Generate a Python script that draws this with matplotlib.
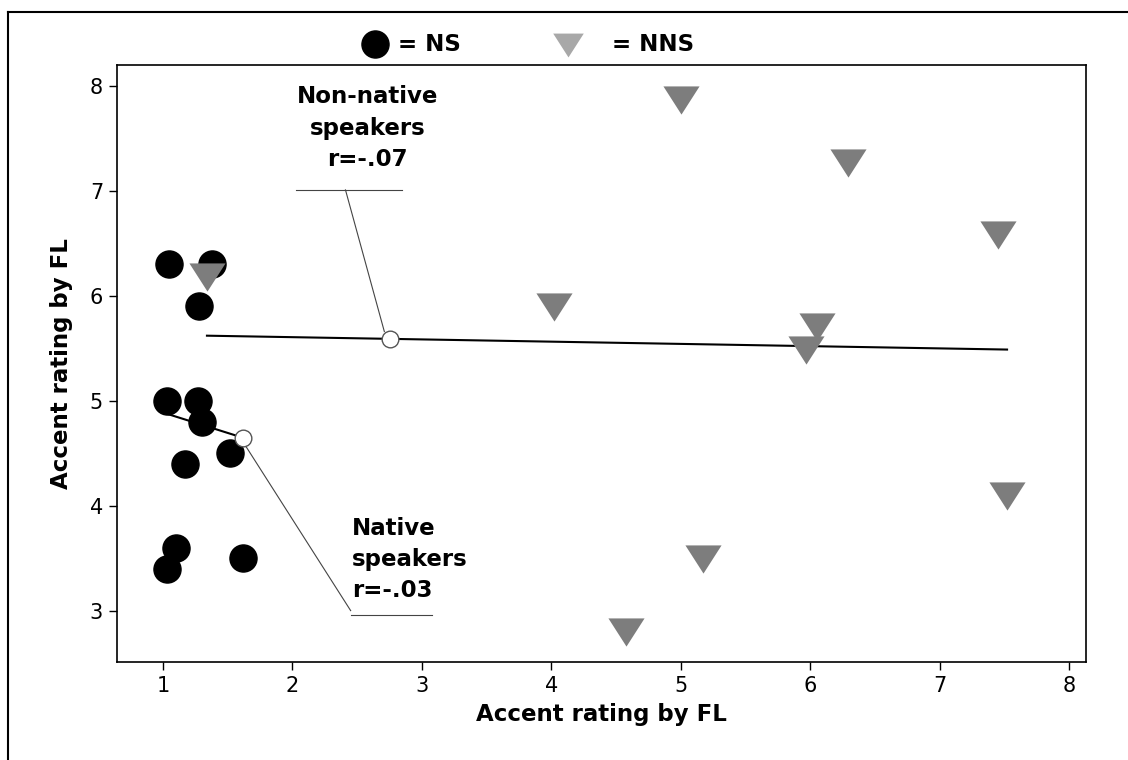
import matplotlib
matplotlib.use("Agg")
import matplotlib.pyplot as plt
import numpy as np
from matplotlib.lines import Line2D

# native speakers (NS)
ns_x = [1.05, 1.38, 1.28, 1.03, 1.27, 1.30, 1.17, 1.52, 1.10, 1.03, 1.62]
ns_y = [6.30, 6.30, 5.90, 5.00, 5.00, 4.80, 4.40, 4.50, 3.60, 3.40, 3.50]

# non-native speakers (NNS)
nns_x = [1.34, 4.02, 4.58, 5.00, 5.17, 5.97, 6.05, 6.29, 7.45, 7.52]
nns_y = [6.18, 5.89, 2.80, 7.87, 3.49, 5.48, 5.70, 7.27, 6.58, 4.09]

ticks = [1, 2, 3, 4, 5, 6, 7, 8]
yticks = [3, 4, 5, 6, 7, 8]

fig = plt.figure(figsize=(11.28, 7.6), dpi=100)
ax = fig.add_axes([0.1037, 0.1289, 0.8591, 0.7855])

tri = [(-1, 0.78), (1, 0.78), (0, -0.78)]

ax.scatter(ns_x, ns_y, s=19.5**2, marker='o', color='black', zorder=3)
ax.scatter(nns_x, nns_y, s=26**2, marker=tri, color='#7d7d7d', linewidths=0, zorder=4)

# regression lines
b_ns = np.polyfit(ns_x, ns_y, 1)
b_nns = np.polyfit(nns_x, nns_y, 1)
xs = np.array([min(ns_x), max(ns_x)])
ax.plot(xs, np.polyval(b_ns, xs), color='black', lw=1.5, zorder=5)
xs = np.array([min(nns_x), max(nns_x)])
ax.plot(xs, np.polyval(b_nns, xs), color='black', lw=1.5, zorder=2)

fs = 16.5

# callouts
cx_nns = 2.75
cy_nns = np.polyval(b_nns, cx_nns)
ax.plot(cx_nns, cy_nns, 'o', mfc='white', mec='#555555', ms=12, mew=1, zorder=6)
ax.plot([cx_nns - 0.04, 2.41], [cy_nns + 0.07, 7.01], color='#444444', lw=0.8)
ax.plot([2.03, 2.85], [7.01, 7.01], color='#444444', lw=0.8)
ax.text(2.58, 7.6, "Non-native\nspeakers\nr=-.07", ha='center', va='center',
        fontsize=fs, fontweight='bold', linespacing=1.45)

cx_ns = 1.62
cy_ns = np.polyval(b_ns, cx_ns)
ax.plot(cx_ns, cy_ns, 'o', mfc='white', mec='#555555', ms=12, mew=1, zorder=6)
ax.plot([cx_ns + 0.02, 2.45], [cy_ns - 0.08, 3.0], color='#444444', lw=0.8)
ax.plot([2.45, 3.08], [2.96, 2.96], color='#444444', lw=0.8)
ax.text(2.46, 3.49, "Native\nspeakers\nr=-.03", ha='left', va='center',
        fontsize=fs, fontweight='bold', linespacing=1.45)

ax.set_xlim(0.645, 8.13)
ax.set_ylim(2.51, 8.2)
ax.set_xticks(ticks)
ax.set_yticks(yticks)
ax.tick_params(direction='out', length=6, width=1, labelsize=15, pad=4)
for s in ax.spines.values():
    s.set_linewidth(1.2)
ax.set_xlabel("Accent rating by FL", fontsize=fs, fontweight='bold', labelpad=5)
ax.set_ylabel("Accent rating by FL", fontsize=fs, fontweight='bold', labelpad=12)

# legend at top
fig.add_artist(Line2D([0.3324], [0.942], marker='o', ms=19.5, color='black', ls='none'))
fig.text(0.3528, 0.942, "= NS", fontsize=fs, fontweight='bold', va='center')
fig.add_artist(Line2D([0.5035], [0.9408], marker=tri, ms=22, color='#a8a8a8', ls='none', mew=0))
fig.text(0.5426, 0.942, "= NNS", fontsize=fs, fontweight='bold', va='center')

# outer frame
fig.add_artist(Line2D([0.0071, 0.0071], [0, 0.9842], color='black', lw=1.5))
fig.add_artist(Line2D([0.0071, 1.0], [0.9842, 0.9842], color='black', lw=1.5))

fig.savefig("out.png", dpi=100)
